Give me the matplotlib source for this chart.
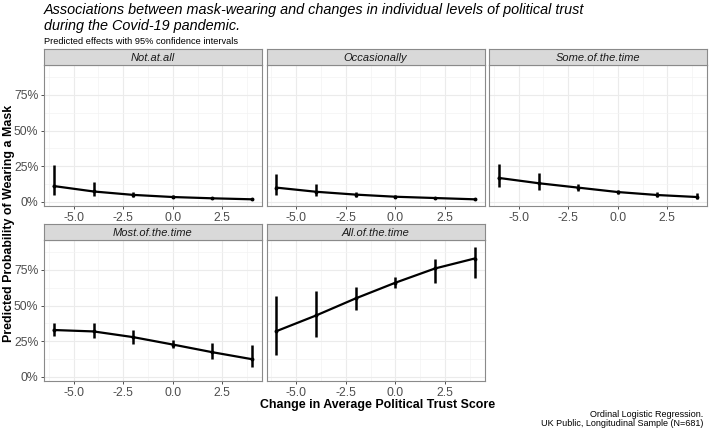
import matplotlib
matplotlib.use("Agg")
import matplotlib.pyplot as plt
import matplotlib.ticker as mticker
import numpy as np

plt.rcParams['font.family'] = ['Liberation Sans', 'DejaVu Sans']

# change in average political trust score
trust_change = [-6, -4, -2, 0, 2, 4]

categories = ["Not.at.all", "Occasionally", "Some.of.the.time",
              "Most.of.the.time", "All.of.the.time"]

# predicted probabilities with 95% CI
not_at_all = [0.110, 0.072, 0.048, 0.033, 0.024, 0.017]
not_at_all_lo = [0.045, 0.040, 0.034, 0.026, 0.016, 0.009]
not_at_all_hi = [0.260, 0.140, 0.068, 0.045, 0.035, 0.028]

occasionally = [0.099, 0.070, 0.050, 0.035, 0.026, 0.017]
occasionally_lo = [0.047, 0.042, 0.033, 0.026, 0.016, 0.009]
occasionally_hi = [0.196, 0.123, 0.066, 0.045, 0.036, 0.028]

some_time = [0.167, 0.130, 0.099, 0.068, 0.047, 0.033]
some_time_lo = [0.100, 0.083, 0.078, 0.054, 0.030, 0.017]
some_time_hi = [0.264, 0.200, 0.125, 0.085, 0.066, 0.060]

most_time = [0.328, 0.318, 0.278, 0.226, 0.172, 0.123]
most_time_lo = [0.285, 0.269, 0.233, 0.203, 0.123, 0.068]
most_time_hi = [0.375, 0.375, 0.328, 0.257, 0.238, 0.224]

all_time = [0.320, 0.430, 0.550, 0.660, 0.760, 0.830]
all_time_lo = [0.150, 0.280, 0.470, 0.620, 0.660, 0.690]
all_time_hi = [0.570, 0.600, 0.630, 0.700, 0.830, 0.910]

series = [
    (not_at_all, not_at_all_lo, not_at_all_hi),
    (occasionally, occasionally_lo, occasionally_hi),
    (some_time, some_time_lo, some_time_hi),
    (most_time, most_time_lo, most_time_hi),
    (all_time, all_time_lo, all_time_hi),
]

W, H = 709, 434
fig = plt.figure(figsize=(W / 100, H / 100), dpi=100)

# panel boxes in pixels: (left, top)
panel_w, panel_h, strip_h = 218, 141, 16
col_left = [44, 266.5, 489]
row_top = [65, 240]
positions = [(0, 0), (0, 1), (0, 2), (1, 0), (1, 1)]

border = '#8a8a8a'
grid = '#ebebeb'

for (row, col), name, (est, lo, hi) in zip(positions, categories, series):
    left = col_left[col]
    top = row_top[row]
    ax = fig.add_axes([left / W, (H - top - panel_h) / H, panel_w / W, panel_h / H])
    sax = fig.add_axes([left / W, (H - top) / H, panel_w / W, strip_h / H])

    sax.set_facecolor('#d9d9d9')
    sax.set_xticks([])
    sax.set_yticks([])
    for s in sax.spines.values():
        s.set_color(border)
        s.set_linewidth(0.8)
    sax.text(0.5, 0.45, name, ha='center', va='center', fontsize=8,
             style='italic', color='#1a1a1a', transform=sax.transAxes)

    est = np.array(est)
    lo = np.array(lo)
    hi = np.array(hi)
    ax.plot(trust_change, est, color='black', linewidth=1.6, zorder=3)
    ax.vlines(trust_change, lo, hi, color='black', linewidth=1.8, zorder=3)
    ax.plot(trust_change, est, 'o', color='black', markersize=1.8, zorder=4)

    ax.set_xlim(-6.5, 4.5)
    ax.set_ylim(-0.03, 0.96)
    ax.xaxis.set_major_locator(mticker.FixedLocator([-5, -2.5, 0, 2.5]))
    ax.xaxis.set_minor_locator(mticker.FixedLocator([-6.25, -3.75, -1.25, 1.25, 3.75]))
    ax.yaxis.set_major_locator(mticker.FixedLocator([0, 0.25, 0.5, 0.75]))
    ax.yaxis.set_minor_locator(mticker.FixedLocator([0.125, 0.375, 0.625, 0.875]))
    ax.xaxis.set_major_formatter(mticker.FuncFormatter(lambda v, p: f"{v:.1f}"))
    ax.yaxis.set_major_formatter(mticker.FuncFormatter(lambda v, p: f"{v * 100:.0f}%"))
    ax.grid(True, which='major', color=grid, linewidth=0.8)
    ax.grid(True, which='minor', color='#f3f3f3', linewidth=0.5)
    ax.set_axisbelow(True)
    ax.tick_params(which='major', length=2.5, width=0.6, color='#333333',
                   labelsize=8.8, labelcolor='#4d4d4d', pad=1.5)
    ax.tick_params(which='minor', length=0)
    for s in ax.spines.values():
        s.set_color(border)
        s.set_linewidth(0.8)
    if col != 0:
        ax.tick_params(axis='y', labelleft=False, left=False)

fig.text(44 / W, 1 - 10 / H,
         "Associations between mask-wearing and changes in individual levels of political trust",
         ha='left', va='center', fontsize=10.4, style='italic')
fig.text(44 / W, 1 - 26 / H, "during the Covid-19 pandemic.",
         ha='left', va='center', fontsize=10.4, style='italic')
fig.text(44 / W, 1 - 41 / H, "Predicted effects with 95% confidence intervals",
         ha='left', va='center', fontsize=6.7)

fig.text(378 / W, 1 - 405 / H, "Change in Average Political Trust Score",
         ha='center', va='center', fontsize=8.9, fontweight='bold')
fig.text(9 / W, 1 - 223 / H, "Predicted Probability of Wearing a Mask",
         ha='center', va='center', rotation=90, fontsize=8.9, fontweight='bold')

fig.text(703 / W, 1 - 419 / H,
         "Ordinal Logistic Regression.\nUK Public, Longitudinal Sample (N=681)",
         ha='right', va='center', fontsize=6.5, linespacing=1.1)

plt.savefig("out.png", dpi=100)
plt.close()
